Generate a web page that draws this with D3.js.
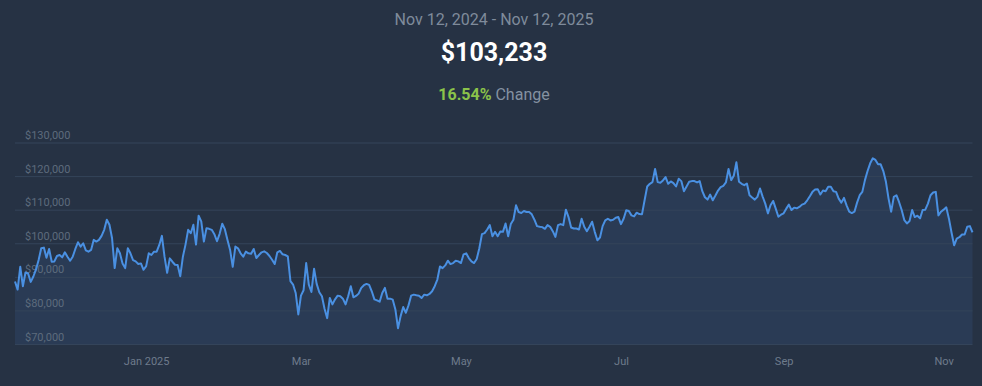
<!DOCTYPE html>
<html>
<head>
<meta charset="utf-8">
<script src="https://cdn.jsdelivr.net/npm/d3@7"></script>
<style>
    body { margin: 0; background: #263244; font-family: Roboto, "Noto Sans", sans-serif; overflow: hidden; }
</style>
</head>
<body>
<svg id="chart" width="982" height="386"></svg>
<script>
// price chart, one value per day

const rangeLabel = 'Nov 12, 2024 - Nov 12, 2025';
const lastPrice = '$103,233';
const changePct = '16.54%';

const startDate = new Date(2024, 10, 12);
const endDate = new Date(2025, 10, 12);

const prices = [
    88600, 86200, 93000, 87200, 91300, 91000, 88500, 90100, 92200, 95000,
    98500, 98700, 95700, 98300, 94500, 94600, 96200, 96500, 95800, 97300,
    96000, 94800, 96000, 98300, 100300, 99000, 100000, 97900, 97500, 98000,
    101000, 100500, 101000, 102200, 104000, 107000, 105500, 101500, 92600, 98500,
    97000, 94000, 92600, 98500, 97000, 95000, 94600, 93800, 94000, 92100,
    93200, 97000, 96500, 97500, 97500, 99500, 102200, 96000, 91200, 95500,
    94500, 93600, 93500, 90200, 96000, 99600, 104000, 103000, 105500, 99600,
    108200, 106500, 100500, 104500, 104300, 104000, 102700, 100600, 102800, 105800,
    104200, 101000, 98000, 93000, 99000, 98500, 97000, 96000, 97500, 97000,
    96900, 98300, 95600, 96500, 97300, 97600, 97100, 96200, 95100, 93800,
    97300, 97700, 96700, 96500, 96100, 88700, 87700, 85200, 78800, 84400,
    86000, 94100, 87700, 85500, 92400, 87900, 85400, 84200, 80500, 77700,
    83700, 81800, 83300, 84400, 84200, 83500, 81800, 84200, 87200, 83900,
    84300, 85000, 86700, 87500, 87900, 87600, 85700, 83300, 83000, 82600,
    85200, 86700, 83500, 83500, 83200, 80300, 74700, 78300, 81000, 79300,
    81500, 84400, 84700, 84500, 84400, 83700, 84700, 84500, 84900, 85700,
    87200, 89200, 93100, 92600, 93400, 94800, 93800, 94100, 94800, 94600,
    94100, 96700, 97000, 95600, 94600, 94100, 95300, 98500, 102700, 103000,
    104100, 105400, 102100, 103400, 102100, 103500, 103400, 105900, 102100, 105700,
    107000, 111300, 109300, 109000, 109600, 109300, 109300, 108600, 107000, 105100,
    104900, 104800, 104300, 105400, 104900, 103600, 101900, 105400, 105700, 105400,
    110000, 107800, 104700, 104400, 104400, 104100, 107300, 104900, 103600, 104900,
    106400, 103400, 100900, 101700, 105100, 106800, 107300, 106800, 107000, 107600,
    107800, 105700, 107300, 109800, 109600, 108300, 108000, 109100, 108700, 108600,
    112800, 116900, 117700, 118200, 122100, 118200, 118000, 118700, 119700, 117700,
    118400, 117900, 116900, 119200, 118500, 115500, 116900, 118300, 118500, 118500,
    118100, 118500, 115500, 113700, 113000, 114500, 112800, 114200, 115700, 116700,
    117100, 118100, 122100, 118800, 120100, 124100, 118300, 117700, 117300, 117800,
    114300, 113600, 113000, 113800, 116300, 113900, 111800, 108900, 111300, 112600,
    110300, 107900, 108500, 108900, 110300, 111500, 109900, 110600, 110400, 110800,
    111500, 111800, 112800, 114000, 115300, 116000, 116100, 114500, 115700, 115500,
    116800, 116800, 115500, 115300, 113300, 112100, 113500, 111300, 109400, 109000,
    109400, 112100, 114300, 115300, 118800, 121500, 123800, 125300, 124800, 123500,
    123500, 121500, 118300, 113300, 109400, 113800, 114300, 112300, 109900, 106900,
    105900, 106600, 109900, 107800, 108200, 107400, 109900, 110000, 111800, 114300,
    115100, 115300, 108300, 109400, 110000, 110700, 107400, 103200, 99400, 101400,
    101800, 102600, 102600, 104900, 105100, 103233
];

const yTicks = [70000, 80000, 90000, 100000, 110000, 120000, 130000];
const xTickDates = [new Date(2025, 0, 1), new Date(2025, 2, 1), new Date(2025, 4, 1),
    new Date(2025, 6, 1), new Date(2025, 8, 1), new Date(2025, 10, 1)];
const xTickLabels = ['Jan 2025', 'Mar', 'May', 'Jul', 'Sep', 'Nov'];

const data = prices.map((p, i) => ({date: d3.timeDay.offset(startDate, i), value: p}));

const svg = d3.select('#chart');

const x = d3.scaleTime().domain([startDate, endDate]).range([15, 972.5]);
const y = d3.scaleLinear().domain([70000, 130000]).range([344, 142.5]);

// header
svg.append('text')
    .attr('x', 494).attr('y', 25)
    .attr('text-anchor', 'middle')
    .attr('fill', '#7f8b9b')
    .style('font-size', '16px')
    .text(rangeLabel);

svg.append('text')
    .attr('x', 494).attr('y', 61)
    .attr('text-anchor', 'middle')
    .attr('fill', '#ffffff')
    .style('font-size', '25px')
    .style('font-weight', 'bold')
    .text(lastPrice);

const chg = svg.append('text')
    .attr('x', 494).attr('y', 100)
    .attr('text-anchor', 'middle')
    .style('font-size', '16px');
chg.append('tspan').attr('fill', '#8bc34a').style('font-weight', 'bold').text(changePct);
chg.append('tspan').attr('fill', '#8491a1').text(' Change');

// area + grid
const area = d3.area()
    .x(d => x(d.date))
    .y0(y(70000))
    .y1(d => y(d.value));

svg.append('path')
    .datum(data)
    .attr('fill', '#2a3b55')
    .attr('d', area);

const yAxis = svg.append('g')
    .attr('transform', 'translate(15,0)')
    .call(d3.axisRight(y).tickValues(yTicks).tickSize(957.5)
        .tickFormat(d => '$' + d3.format(',')(d)));
yAxis.select('.domain').remove();
yAxis.selectAll('line').attr('stroke', '#34445a');
yAxis.selectAll('text')
    .attr('x', 10).attr('dy', '-4px')
    .attr('fill', '#5d6b7d')
    .style('font-size', '11px')
    .style('font-family', 'Roboto, sans-serif');

const line = d3.line()
    .x(d => x(d.date))
    .y(d => y(d.value));

svg.append('path')
    .datum(data)
    .attr('fill', 'none')
    .attr('stroke', '#4a90e2')
    .attr('stroke-width', 2)
    .attr('stroke-linejoin', 'round')
    .attr('d', line);

const xAxis = svg.append('g')
    .attr('transform', 'translate(0,344)')
    .call(d3.axisBottom(x).tickValues(xTickDates).tickSize(0)
        .tickFormat((d, i) => xTickLabels[i]));
xAxis.select('.domain').remove();
xAxis.selectAll('text')
    .attr('y', 21)
    .attr('dy', 0)
    .attr('fill', '#6e7b8c')
    .style('font-size', '11px')
    .style('font-family', 'Roboto, sans-serif');
</script>
</body>
</html>
